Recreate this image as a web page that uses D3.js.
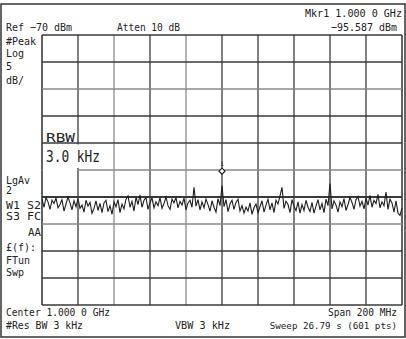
<!DOCTYPE html>
<html><head><meta charset="utf-8">
<script src="https://cdn.jsdelivr.net/npm/d3@7"></script>
<style>html,body{margin:0;padding:0;background:#fff;}svg{display:block;}text{font-family:"DejaVu Sans Mono",monospace;fill:#222;}</style>
</head><body>
<script>
// ---- data ----
const refLevel = -70;          // dBm, top of screen
const dbPerDiv = 5;
const centerMHz = 1000;
const spanMHz = 200;
const markerFreqMHz = 1000;
const markerDbm = -95.587;
const traceDbm = [
-100.4,-101.9,-100.1,-100.9,-102.3,-100.6,-101.2,-100.2,-102.0,-101.4,
-100.5,-102.6,-101.3,-100.0,-101.1,-102.4,-100.7,-101.8,-100.3,-102.1,
-101.5,-102.8,-100.6,-101.7,-101.0,-103.0,-102.1,-100.7,-102.5,-101.2,
-102.9,-101.1,-100.6,-102.7,-101.6,-103.2,-100.9,-101.8,-100.5,-102.9,
-101.3,-102.2,-100.4,-99.8,-101.9,-100.8,-102.6,-100.0,-101.4,-99.6,
-101.9,-100.6,-100.1,-102.3,-101.0,-100.2,-102.0,-100.9,-101.6,-100.1,
-102.1,-101.2,-100.0,-101.6,-102.3,-100.4,-101.1,-100.1,-102.0,-100.8,
-101.5,-100.2,-102.4,-101.1,-100.6,-101.9,-98.2,-101.7,-100.5,-102.4,
-100.9,-102.0,-100.4,-101.4,-102.6,-100.7,-101.9,-102.8,-100.3,-101.6,
-97.9,-101.8,-100.5,-102.7,-101.3,-100.6,-102.3,-101.0,-100.4,-102.6,
-101.6,-103.0,-101.9,-102.6,-101.1,-103.2,-102.0,-101.3,-102.9,-101.8,
-100.7,-102.8,-101.5,-100.4,-102.4,-101.1,-102.9,-100.6,-101.3,-99.8,
-98.2,-102.1,-100.8,-101.4,-102.9,-100.5,-101.7,-102.5,-100.9,-103.0,
-101.4,-102.5,-100.6,-101.9,-102.7,-101.0,-103.0,-101.7,-100.5,-102.4,
-101.2,-102.9,-100.4,-101.6,-97.5,-102.2,-100.7,-101.5,-102.8,-100.9,
-101.8,-100.3,-102.5,-101.4,-100.1,-101.0,-102.3,-100.5,-99.9,-101.7,
-100.8,-102.2,-100.2,-101.5,-99.7,-101.9,-100.6,-101.2,-99.5,-102.0,
-100.9,-101.6,-99.1,-102.3,-100.4,-101.1,-102.8,-100.7,-103.0,-103.4,
-102.0];
const topLabels = ["Ref \u221270 dBm", "Atten 10 dB", "Mkr1  1.000 0 GHz", "\u221295.587 dBm"];
const leftLabels = ["#Peak","Log","5","dB/","LgAv","2","W1  S2","S3 FC","AA","\u00a3(f):","FTun","Swp"];
const bottomLabels = ["Center 1.000 0 GHz", "#Res BW 3 kHz", "VBW 3 kHz", "Span 200 MHz", "Sweep 26.79 s (601 pts)"];
const rbwLabels = ["RBW", "3.0 kHz"];

// ---- drawing ----
const W = 406, H = 339;
const gx0 = 42, gx1 = 402, gy0 = 35, gy1 = 305;
const svg = d3.select("body").append("svg").attr("width", W).attr("height", H);
svg.append("rect").attr("width", W).attr("height", H).attr("fill", "#fff");

const x = d3.scaleLinear().domain([centerMHz - spanMHz/2, centerMHz + spanMHz/2]).range([gx0, gx1]);
const y = d3.scaleLinear().domain([refLevel, refLevel - 10*dbPerDiv]).range([gy0, gy1]);

// frame
svg.append("rect").attr("x", 1).attr("y", 4).attr("width", 404).attr("height", 333)
  .attr("fill", "none").attr("stroke", "#333").attr("stroke-width", 1.5);

// grid
const vTicks = d3.range(11).map(i => x.domain()[0] + i*spanMHz/10);
const hTicks = d3.range(11).map(i => refLevel - i*dbPerDiv);
const lightV = new Set([2,4]);
const lightH = new Set([2,5,7]);
svg.append("g").selectAll("line").data(vTicks).join("line")
  .attr("x1", d => x(d)).attr("x2", d => x(d)).attr("y1", gy0).attr("y2", gy1)
  .attr("stroke", (d,i) => lightV.has(i) ? "#8a8a8a" : "#3a3a3a")
  .attr("stroke-width", (d,i) => (i===0||i===10) ? 1.6 : 1.3);
svg.append("g").selectAll("line").data(hTicks).join("line")
  .attr("x1", gx0).attr("x2", gx1).attr("y1", d => y(d)).attr("y2", d => y(d))
  .attr("stroke", (d,i) => lightH.has(i) ? "#8a8a8a" : "#3a3a3a")
  .attr("stroke-width", (d,i) => i===6 ? 2 : 1.3);

// RBW annotation (white boxes over grid)
svg.append("rect").attr("x", 43).attr("y", 128).attr("width", 33).attr("height", 14).attr("fill", "#fff");
svg.append("rect").attr("x", 43).attr("y", 144.5).attr("width", 63).attr("height", 23.5).attr("fill", "#fff");
svg.append("rect").attr("x", 43).attr("y", 167).attr("width", 34).attr("height", 4).attr("fill", "#fff");
svg.append("text").attr("x", 46).attr("y", 142).attr("font-size", 12).attr("textLength", 29)
  .attr("lengthAdjust", "spacingAndGlyphs").text(rbwLabels[0]);
svg.append("text").attr("x", 46).attr("y", 162).attr("font-size", 16.5).attr("textLength", 54)
  .attr("lengthAdjust", "spacingAndGlyphs").text(rbwLabels[1]);

// trace
const freqs = traceDbm.map((d,i) => x.domain()[0] + i*spanMHz/(traceDbm.length-1));
const line = d3.line().x((d,i) => x(freqs[i])).y(d => y(d));
svg.append("path").datum(traceDbm).attr("d", line).attr("fill", "none")
  .attr("stroke", "#1e1e1e").attr("stroke-width", 1.1);

// marker
const mx = x(markerFreqMHz), my = y(markerDbm) - 2;
svg.append("path").attr("d", `M${mx},${my-3}L${mx+3},${my}L${mx},${my+3}L${mx-3},${my}Z`)
  .attr("fill", "#fff").attr("stroke", "#222").attr("stroke-width", 1.2);
svg.append("text").attr("x", mx).attr("y", my-5).attr("font-size", 6).attr("text-anchor", "middle").text("1");

// text helper
function t(str, xx, yy, opts = {}) {
  const e = svg.append("text").attr("x", xx).attr("y", yy).attr("font-size", opts.size || 10.5)
    .attr("text-anchor", opts.anchor || "start").text(str);
  if (opts.len) e.attr("textLength", opts.len).attr("lengthAdjust", "spacingAndGlyphs");
  return e;
}
t(topLabels[0], 6, 31, {len: 66});
t(topLabels[1], 117, 31, {len: 63});
t(topLabels[2], 402, 17, {anchor: "end", len: 97});
t(topLabels[3], 397, 31, {anchor: "end", len: 66});

const leftY = [44.5, 57, 70, 84, 184, 194, 209, 220, 236, 251, 264, 276];
leftLabels.forEach((s, i) => {
  if (s === "AA") t(s, 41, leftY[i], {anchor: "end", len: 13});
  else if (s === "W1  S2") t(s, 6, leftY[i], {len: 35});
  else if (s === "S3 FC") t(s, 6, leftY[i], {len: 35});
  else t(s, 6, leftY[i], {size: 10});
});

t(bottomLabels[0], 6, 316, {len: 104});
t(bottomLabels[1], 6, 328.5, {len: 77});
t(bottomLabels[2], 175, 328.5, {len: 55});
t(bottomLabels[3], 397, 316, {anchor: "end", len: 69});
t(bottomLabels[4], 397, 328.5, {anchor: "end", size: 9.2});
</script>
</body></html>
